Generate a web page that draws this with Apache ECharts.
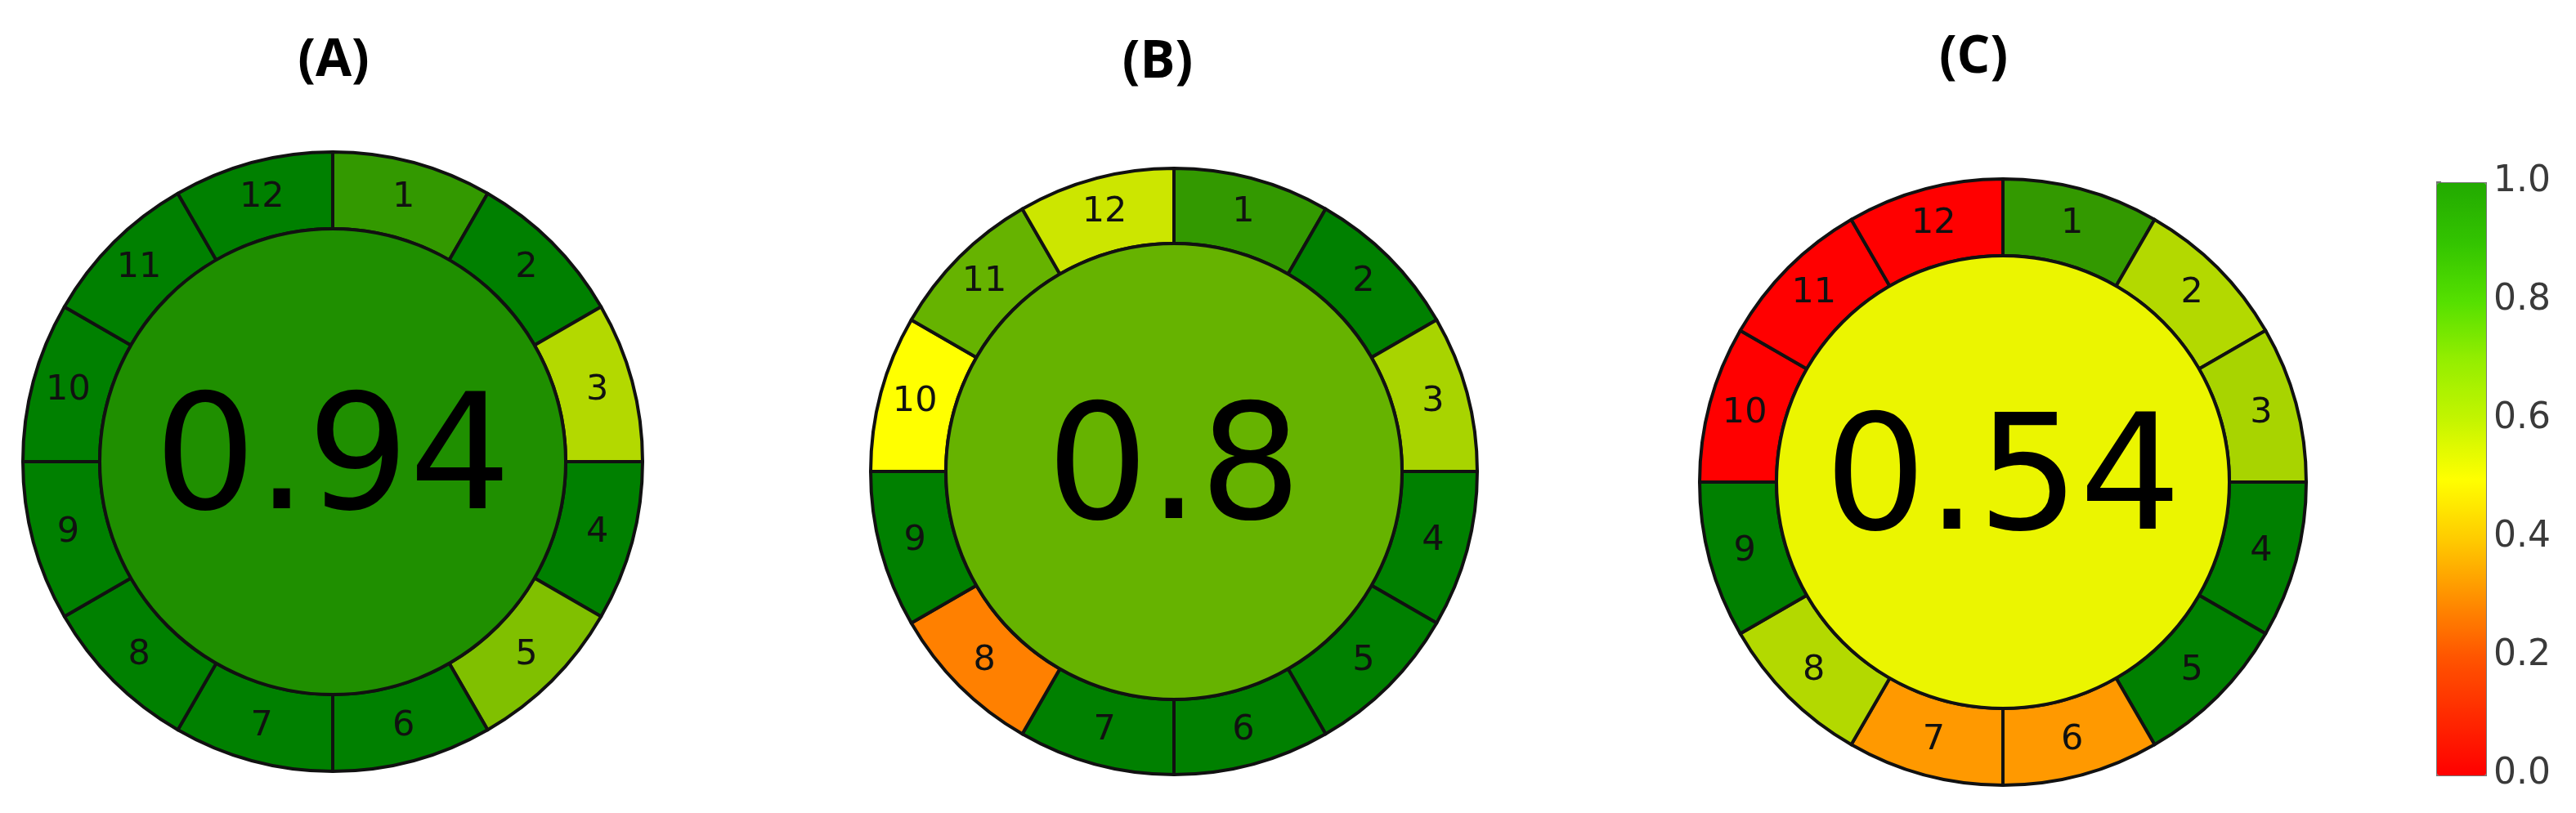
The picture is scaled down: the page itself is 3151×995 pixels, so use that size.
<!DOCTYPE html>
<html>
<head>
<meta charset="utf-8">
<script src="https://cdn.jsdelivr.net/npm/echarts@6/dist/echarts.min.js"></script>
<style>
  html, body { margin: 0; padding: 0; background: #fff; }
  #main { width: 3151px; height: 995px; }
</style>
</head>
<body>
<div id="main"></div>
<script>
// AGREE pictograms, 12 principles each
var principles = ['1', '2', '3', '4', '5', '6', '7', '8', '9', '10', '11', '12'];
var panelTitles = ['(A)', '(B)', '(C)'];
var scoresA = [0.9, 1, 0.65, 1, 0.75, 1, 1, 1, 1, 1, 1, 1];
var scoresB = [0.9, 1, 0.67, 1, 1, 1, 1, 0.25, 1, 0.5, 0.8, 0.6];
var scoresC = [0.9, 0.65, 0.67, 1, 1, 0.3, 0.3, 0.65, 1, 0, 0, 0];
var totals = [0.94, 0.8, 0.54];
var colorbarTicks = [0, 0.2, 0.4, 0.6, 0.8, 1.0];

// red -> yellow -> green, same map the AGREE tool uses for segments
function agreeColor(v) {
  var r, g;
  if (v <= 0.5) {
    r = 255; g = Math.round(255 * v / 0.5);
  } else {
    var t = (v - 0.5) / 0.5;
    r = Math.round(255 * (1 - t));
    g = Math.round(255 - 127 * t);
  }
  return 'rgb(' + r + ',' + g + ',0)';
}

var panels = [
  { scores: scoresA, cx: 407, cy: 565, r: 379, ri: 285, tx: 403, ty: 78 },
  { scores: scoresB, cx: 1436, cy: 577, r: 371, ri: 279, tx: 1411, ty: 80 },
  { scores: scoresC, cx: 2450, cy: 590, r: 371, ri: 277, tx: 2409, ty: 74 }
];

var series = [];
var titles = [];
panels.forEach(function (p, k) {
  titles.push({
    text: panelTitles[k],
    left: p.tx,
    top: p.ty - 40,
    textAlign: 'center',
    textStyle: { fontFamily: 'Open Sans', fontWeight: 'bold', fontSize: 64, color: '#000' }
  });
  series.push({
    type: 'pie',
    center: [p.cx, p.cy],
    radius: [p.ri, p.r],
    startAngle: 90,
    clockwise: true,
    silent: true,
    avoidLabelOverlap: false,
    itemStyle: { borderColor: '#111', borderWidth: 4 },
    label: {
      show: true,
      position: 'inside',
      formatter: '{b}',
      fontFamily: 'DejaVu Sans',
      fontSize: 43,
      color: '#111'
    },
    labelLine: { show: false },
    data: principles.map(function (name, i) {
      return { name: name, value: 1, itemStyle: { color: agreeColor(p.scores[i]) } };
    })
  });
  series.push({
    type: 'pie',
    center: [p.cx, p.cy],
    radius: [0, p.ri],
    silent: true,
    itemStyle: { borderColor: '#111', borderWidth: 4 },
    label: {
      show: true,
      position: 'center',
      formatter: String(totals[k]),
      fontFamily: 'DejaVu Sans',
      fontSize: 196,
      color: '#000',
      offset: [0, 6]
    },
    labelLine: { show: false },
    data: [{ name: 'total', value: 1, itemStyle: { color: agreeColor(totals[k]) } }]
  });
});

// empty series that carries the colorbar axis
series.push({ type: 'scatter', xAxisIndex: 0, yAxisIndex: 0, data: [] });

var chart = echarts.init(document.getElementById('main'), null, { renderer: 'canvas' });
chart.setOption({
  backgroundColor: '#ffffff',
  animation: false,
  title: titles,
  grid: { left: 2980, top: 223, width: 60, height: 725 },
  xAxis: { type: 'value', show: false, min: 0, max: 1 },
  yAxis: {
    type: 'value',
    position: 'right',
    min: colorbarTicks[0],
    max: colorbarTicks[colorbarTicks.length - 1],
    interval: 0.2,
    splitLine: { show: false },
    axisLine: { show: false },
    axisTick: { show: true, length: 6, lineStyle: { color: '#666', width: 2 } },
    axisLabel: {
      margin: 10,
      fontFamily: 'DejaVu Sans',
      fontSize: 44,
      color: '#3a3a3a',
      formatter: function (v) { return v.toFixed(1); }
    }
  },
  visualMap: {
    type: 'continuous',
    seriesIndex: series.length - 1,
    min: 0,
    max: 1,
    left: 2980,
    top: 223,
    itemWidth: 60,
    itemHeight: 725,
    padding: 0,
    calculable: false,
    hoverLink: false,
    borderColor: '#777',
    borderWidth: 2,
    inRange: {
      color: ['#ff0000', '#ff2a00', '#ff5500', '#ff9000', '#ffcc00', '#ffff00',
              '#c4f500', '#95ee00', '#55e000', '#33c400', '#22aa00']
    }
  },
  series: series
});
</script>
</body>
</html>
